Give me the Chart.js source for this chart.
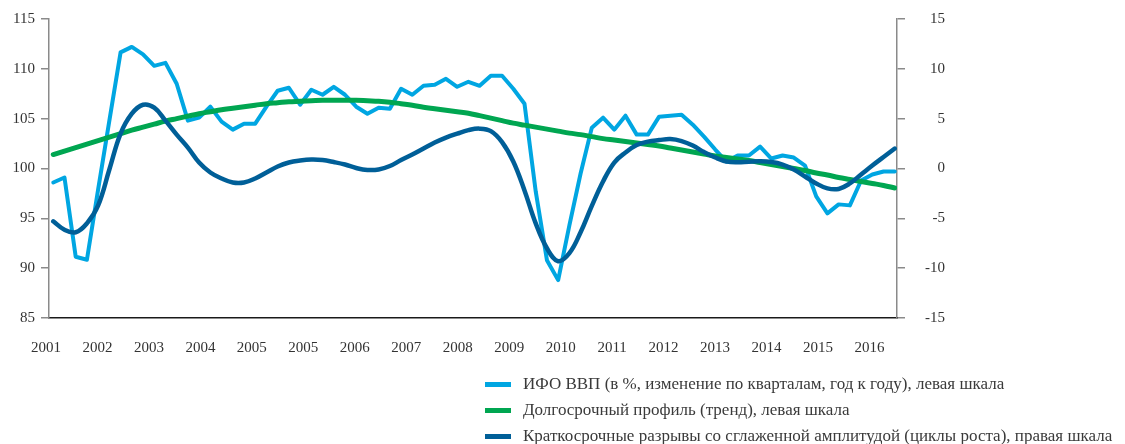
<!DOCTYPE html>
<html>
<head>
<meta charset="utf-8">
<script src="https://cdn.jsdelivr.net/npm/chart.js@4.4.1/dist/chart.umd.min.js"></script>
<style>
  body{margin:0;background:#fff;}
  #wrap{position:relative;width:1125px;height:444px;overflow:hidden;}
  .legend{position:absolute;left:485px;top:371px;font-family:"Liberation Serif",serif;font-size:17px;color:#3a3a3a;}
  .legend .row{height:26px;display:flex;align-items:center;white-space:nowrap;}
  .legend .sw{width:26px;height:5px;margin-right:12px;flex:none;}
</style>
</head>
<body>
<div id="wrap">
  <canvas id="chart" width="1125" height="444"></canvas>
  <div class="legend" id="legend"></div>
</div>
<script>
// подписи оси X (как в оригинале, 2005 дважды)
const xLabels = ["2001","2002","2003","2004","2005","2005","2006","2007","2008","2009","2010","2011","2012","2013","2014","2015","2016"];

// ИФО ВВП, левая шкала (поквартально)
const ifoGdp = [
  98.6, 99.1, 91.15, 90.85, 97.9, 104.8, 111.65, 112.2, 111.45, 110.3,
  110.6, 108.5, 104.8, 105.1, 106.2, 104.7, 103.9, 104.5, 104.5, 106.2,
  107.8, 108.1, 106.4, 107.9, 107.4, 108.2, 107.4, 106.2, 105.5, 106.1,
  106.0, 108.0, 107.4, 108.3, 108.4, 109.0, 108.2, 108.7, 108.3, 109.3,
  109.3, 108.0, 106.5, 97.7, 90.8, 88.8, 94.3, 99.5, 104.1, 105.1,
  103.9, 105.3, 103.4, 103.4, 105.2, 105.3, 105.4, 104.4, 103.2, 101.9,
  100.7, 101.3, 101.3, 102.2, 101.0, 101.3, 101.1, 100.3, 97.2, 95.5,
  96.4, 96.3, 98.8, 99.4, 99.7, 99.7
];

// долгосрочный профиль (тренд), левая шкала
const trend = [
  101.4, 101.75, 102.1, 102.45, 102.8, 103.15, 103.5, 103.85, 104.15, 104.45,
  104.75, 105.0, 105.25, 105.5, 105.7, 105.9, 106.05, 106.2, 106.35, 106.5,
  106.6, 106.7, 106.75, 106.8, 106.85, 106.85, 106.85, 106.85, 106.8, 106.75,
  106.65, 106.5, 106.35, 106.15, 106.0, 105.85, 105.7, 105.55, 105.3, 105.05,
  104.8, 104.55, 104.35, 104.15, 103.95, 103.75, 103.55, 103.4, 103.2, 103.0,
  102.85, 102.7, 102.55, 102.4, 102.25, 102.05, 101.85, 101.65, 101.45, 101.25,
  101.1, 100.95, 100.8, 100.6, 100.4, 100.2, 100.0, 99.8, 99.55, 99.35,
  99.1, 98.9, 98.7, 98.5, 98.3, 98.05
];

// краткосрочные разрывы, правая шкала
const cycles = [
  -5.3, -6.15, -6.4, -5.5, -3.7, -0.1, 3.5, 5.5, 6.4, 6.1,
  4.8, 3.4, 2.1, 0.6, -0.4, -1.0, -1.4, -1.4, -1.0, -0.4,
  0.2, 0.6, 0.8, 0.9, 0.85, 0.65, 0.4, 0.05, -0.15, -0.1,
  0.25, 0.85, 1.4, 2.0, 2.6, 3.1, 3.5, 3.85, 4.0, 3.75,
  2.65, 0.7, -2.2, -5.5, -8.0, -9.3, -8.5, -6.4, -3.75, -1.3,
  0.6, 1.6, 2.35, 2.7, 2.85, 2.95, 2.75, 2.3, 1.65, 1.1,
  0.7, 0.62, 0.68, 0.72, 0.65, 0.4, -0.1, -0.8, -1.5, -2.0,
  -2.05, -1.5, -0.6, 0.3, 1.15, 2.0
];

const seriesNames = [
  "ИФО ВВП (в %, изменение по кварталам, год к году), левая шкала",
  "Долгосрочный профиль (тренд), левая шкала",
  "Краткосрочные разрывы со сглаженной амплитудой (циклы роста), правая шкала"
];
const colors = ["#00a6e2", "#00a651", "#005f98"];

const X_MIN = -0.38, X_MAX = 75.2, LABEL_STEP = 4.587;

const toPts = arr => arr.map((v,i)=>({x:i, y:v}));

Chart.defaults.font.family = '"Liberation Serif", serif';
Chart.defaults.font.size = 15;
Chart.defaults.color = "#333";

new Chart(document.getElementById("chart"), {
  type: "line",
  data: {
    datasets: [
      {label: seriesNames[0], data: toPts(ifoGdp), borderColor: colors[0], borderWidth: 4, tension: 0, yAxisID: "y", order: 2},
      {label: seriesNames[1], data: toPts(trend), borderColor: colors[1], borderWidth: 5, tension: 0.4, yAxisID: "y", order: 1},
      {label: seriesNames[2], data: toPts(cycles), borderColor: colors[2], borderWidth: 4.5, tension: 0.4, yAxisID: "y2", order: 0}
    ]
  },
  options: {
    responsive: false,
    animation: false,
    events: [],
    elements: {point: {radius: 0}, line: {borderCapStyle: "round", borderJoinStyle: "round"}},
    layout: {padding: {left: 0, right: 180, top: 19, bottom: 0}},
    plugins: {legend: {display: false}, tooltip: {enabled: false}},
    scales: {
      x: {
        type: "linear", position: "bottom", min: X_MIN, max: X_MAX,
        grid: {display: false},
        border: {display: true, color: "#1a1a1a", width: 1.5},
        ticks: {autoSkip: false, maxRotation: 0, padding: 13, labelOffset: -3,
          callback: (v, idx) => xLabels[idx]},
        afterBuildTicks: s => { s.ticks = xLabels.map((t,k)=>({value: X_MIN + k*LABEL_STEP})); },
        afterFit: s => { s.height = 126; }
      },
      y: {
        position: "left", min: 85, max: 115,
        grid: {display: true, drawOnChartArea: false, drawTicks: true, tickLength: 8, color: "#8a8a8a", lineWidth: 1.5},
        border: {display: true, color: "#8a8a8a", width: 1.5},
        ticks: {stepSize: 5, padding: 6},
        afterFit: s => { s.width = 49; }
      },
      y2: {
        position: "right", min: -15, max: 15,
        grid: {display: true, drawOnChartArea: false, drawTicks: true, tickLength: 8, color: "#8a8a8a", lineWidth: 1.5},
        border: {display: true, color: "#8a8a8a", width: 1.5},
        ticks: {stepSize: 5, crossAlign: "far"},
        afterFit: s => { s.width = 48; }
      }
    }
  }
});

// легенда
const leg = document.getElementById("legend");
seriesNames.forEach((name,i)=>{
  leg.innerHTML += `<div class="row"><span class="sw" style="background:${colors[i]}"></span><span>${name}</span></div>`;
});
</script>
</body>
</html>
